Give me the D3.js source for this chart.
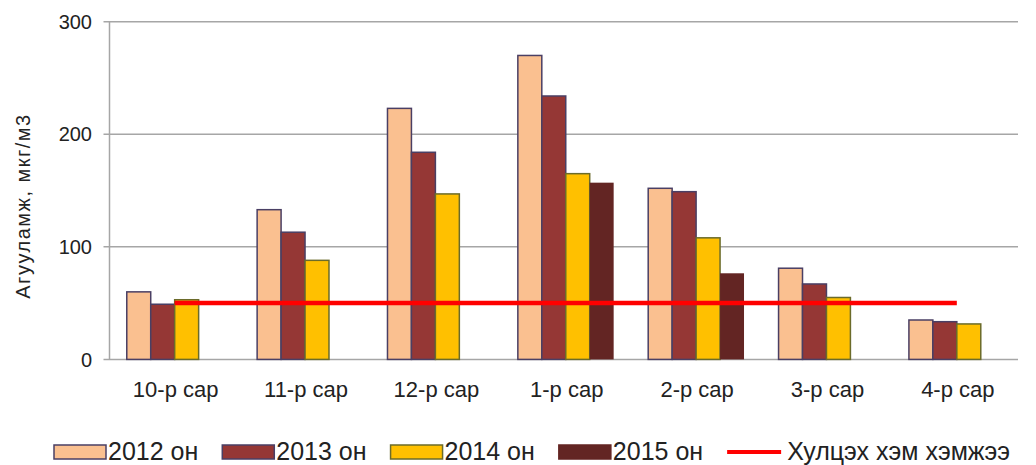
<!DOCTYPE html>
<html>
<head>
<meta charset="utf-8">
<script src="https://cdn.jsdelivr.net/npm/d3@7/dist/d3.min.js"></script>
<style>
  html, body { margin: 0; padding: 0; background: #fff; }
  svg { display: block; }
  text { font-family: "Liberation Sans", Arial, sans-serif; fill: #222; }
</style>
</head>
<body>
<svg id="chart" width="1036" height="465"></svg>
<script>
// ---- Data ----
const categories = ["10-р сар", "11-р сар", "12-р сар", "1-р сар", "2-р сар", "3-р сар", "4-р сар"];
const seriesNames = ["2012 он", "2013 он", "2014 он", "2015 он"];
const values2012 = [60, 133, 223, 270, 152, 81, 35];
const values2013 = [49, 113, 184, 234, 149, 67, 33.5];
const values2014 = [53, 88, 147, 165, 108, 55, 31.5];
const values2015 = [null, null, null, 157, 76.5, null, null];
const standardValues = [50, 50, 50, 50, 50, 50, 50];
const standardName = "Хулцэх хэм хэмжээ";
const yTicks = [0, 100, 200, 300];
const yTitle = "Агууламж, мкг/м3";

const seriesValues = [values2012, values2013, values2014, values2015];
const fills = ["#FAC090", "#953735", "#FFC000", "#632523"];
const strokes = ["#4a3f64", "#4a3f64", "#6b6b2a", "none"];

// ---- Layout ----
const svg = d3.select("#chart");
const plotL = 109.5, plotR = 1022, plotT = 21.7, plotB = 359.4;

const x0 = d3.scaleBand().domain(categories).range([plotL, plotR]).padding(0);
const step = x0.bandwidth();
const groupW = step * 0.735;
const x1 = d3.scaleBand().domain(seriesNames)
  .range([(step - groupW) / 2, (step + groupW) / 2]).padding(0);
const y = d3.scaleLinear().domain([0, 300]).range([plotB, plotT]);

// gridlines
svg.append("g").selectAll("line").data(yTicks).join("line")
  .attr("x1", plotL - 6).attr("x2", plotR - 4)
  .attr("y1", d => y(d)).attr("y2", d => y(d))
  .attr("stroke", "#a6a6a6").attr("stroke-width", 1.5);

// y axis line
svg.append("line").attr("x1", plotL).attr("x2", plotL)
  .attr("y1", plotT).attr("y2", plotB)
  .attr("stroke", "#a6a6a6").attr("stroke-width", 1.5);

// y tick labels
svg.append("g").selectAll("text").data(yTicks).join("text")
  .attr("x", 92).attr("y", d => y(d)).attr("dy", "0.36em")
  .attr("text-anchor", "end").attr("font-size", 20)
  .text(d => d);

// y title
svg.append("text")
  .attr("transform", "translate(30,206) rotate(-90)")
  .attr("text-anchor", "middle").attr("font-size", 20)
  .attr("letter-spacing", 1.5)
  .text(yTitle);

// bars
const barData = [];
seriesValues.forEach((vals, si) => {
  vals.forEach((v, ci) => {
    if (v != null) barData.push({ s: si, c: categories[ci], v });
  });
});
svg.append("g").selectAll("rect").data(barData).join("rect")
  .attr("x", d => x0(d.c) + x1(seriesNames[d.s]))
  .attr("width", x1.bandwidth())
  .attr("y", d => y(d.v))
  .attr("height", d => y(0) - y(d.v))
  .attr("fill", d => fills[d.s])
  .attr("stroke", d => strokes[d.s])
  .attr("stroke-width", 1.5);

// standard line
const line = d3.line()
  .x((d, i) => x0(categories[i]) + step / 2)
  .y(d => y(d));
svg.append("path").datum(standardValues)
  .attr("d", line).attr("fill", "none")
  .attr("stroke", "#FF0000").attr("stroke-width", 4.5);

// x labels
svg.append("g").selectAll("text").data(categories).join("text")
  .attr("x", d => x0(d) + step / 2 + 1).attr("y", 397)
  .attr("text-anchor", "middle").attr("font-size", 22)
  .text(d => d);

// legend
const lg = svg.append("g");
let lx = 54;
const ly = 445;
seriesNames.forEach((name, i) => {
  lg.append("rect").attr("x", lx).attr("y", ly).attr("width", 52).attr("height", 14)
    .attr("fill", fills[i]).attr("stroke", strokes[i] === "none" ? fills[i] : strokes[i])
    .attr("stroke-width", 1.5);
  const t = lg.append("text").attr("x", lx + 54).attr("y", 460)
    .attr("font-size", 25).text(name);
  lx = lx + 54 + t.node().getComputedTextLength() + 24;
});
lg.append("line").attr("x1", lx).attr("x2", lx + 54)
  .attr("y1", ly + 7).attr("y2", ly + 7)
  .attr("stroke", "#FF0000").attr("stroke-width", 4);
lg.append("text").attr("x", lx + 60).attr("y", 460)
  .attr("font-size", 25).text(standardName);
</script>
</body>
</html>
